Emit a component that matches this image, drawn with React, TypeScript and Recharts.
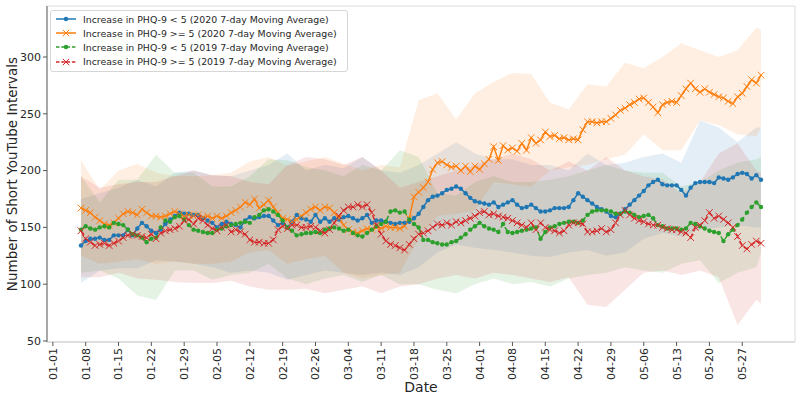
import React from 'react';
import { ComposedChart, Line, Area, XAxis, YAxis, Legend, ReferenceArea } from 'recharts';

const BLUE = '#1f77b4';
const ORANGE = '#ff7f0e';
const GREEN = '#2ca02c';
const RED = '#d62728';
const FONT = 'DejaVu Sans, sans-serif';

// first plotted day (days counted from 01-01, 2020)
const START_DAY = 6;

const blue2020 = [
  134, 138, 140, 140, 141, 139, 139, 143, 143, 143,
  148, 143, 149, 154, 151, 147, 145, 148, 153, 157,
  160, 163, 162, 162, 161, 161, 158, 156, 154, 150,
  153, 155, 153, 152, 150, 156, 159, 158, 159, 160,
  160, 156, 152, 154, 150, 155, 161, 158, 157, 155,
  161, 155, 158, 155, 158, 157, 159, 160, 158, 156,
  158, 161, 154, 156, 156, 155, 154, 153, 154, 154,
  155, 158, 162, 168, 174, 177, 178, 180, 183, 184,
  186, 184, 180, 176, 173, 172, 171, 170, 172, 168,
  170, 172, 174, 170, 167, 168, 170, 167, 164, 164,
  165, 167, 167, 167, 168, 174, 180, 177, 174, 171,
  168, 166, 164, 160, 159, 162, 166, 170, 174, 178,
  182, 187, 190, 192, 188, 187, 187, 187, 183, 178,
  185, 189, 190, 190, 190, 189, 194, 193, 192, 194,
  197, 198, 197, 193, 196, 192,
];

const orange2020 = [
  167, 165, 163, 159, 156, 153, 152, 154, 158, 162,
  164, 163, 161, 166, 163, 160, 160, 159, 160, 162,
  164, 162, 160, 161, 160, 161, 159, 160, 158, 160,
  158, 160, 163, 165, 168, 172, 170, 175, 167, 170,
  174, 168, 163, 158, 157, 155, 157, 160, 163, 166,
  168, 165, 168, 167, 163, 158, 152, 148, 146, 145,
  147, 149, 148, 150, 149, 151, 150, 150, 149, 151,
  158, 177, 181, 185, 190, 201, 207, 208, 205, 203,
  204, 200, 204, 199, 204, 201, 206, 210, 221, 209,
  222, 218, 220, 217, 224, 218, 229, 224, 227, 234,
  230, 231, 228, 229, 227, 228, 227, 236, 243, 243,
  242, 243, 243, 246, 249, 253, 255, 258, 260, 263,
  264, 260, 256, 251, 258, 260, 261, 260, 266, 272,
  277, 272, 269, 272, 269, 267, 265, 264, 261, 259,
  265, 268, 274, 280, 277, 284,
];

const green2019 = [
  148, 151, 149, 148, 150, 151, 150, 154, 153, 152,
  148, 144, 143, 141, 137, 140, 141, 150, 156, 155,
  159, 160, 157, 152, 148, 147, 146, 145, 145, 148,
  149, 151, 152, 153, 154, 155, 154, 159, 161, 165,
  166, 164, 161, 156, 150, 147, 143, 144, 145, 145,
  146, 145, 148, 149, 150, 149, 147, 148, 145, 143,
  142, 145, 148, 151, 153, 155, 164, 165, 163, 164,
  157, 153, 150, 139, 139, 137, 136, 135, 135, 137,
  138, 141, 144, 148, 151, 154, 151, 149, 148, 146,
  153, 146, 145, 146, 147, 148, 149, 150, 140, 146,
  150, 151, 153, 154, 155, 155, 154, 156, 161, 164,
  165, 165, 165, 164, 162, 162, 164, 163, 161, 159,
  160, 161, 158, 152, 151, 149, 149, 149, 148, 149,
  154, 153, 151, 149, 147, 146, 145, 138, 144, 148,
  152, 157, 163, 168, 172, 168,
];

const red2019 = [
  147, 140, 137, 134, 135, 136, 134, 136, 138, 141,
  143, 144, 143, 142, 141, 144, 140, 145, 147, 148,
  149, 151, 156, 157, 153, 158, 156, 152, 149, 147,
  150, 152, 146, 148, 146, 144, 139, 137, 137, 136,
  136, 139, 148, 151, 149, 152, 152, 150, 150, 151,
  150, 147, 145, 148, 154, 160, 165, 168, 168, 170,
  168, 170, 163, 152, 144, 138, 135, 134, 132, 130,
  135, 140, 144, 145, 147, 150, 153, 152, 154, 152,
  155, 154, 156, 158, 160, 163, 164, 161, 162, 160,
  159, 158, 156, 154, 152, 150, 154, 148, 154, 150,
  148, 147, 145, 147, 152, 154, 154, 153, 146, 146,
  147, 149, 146, 148, 154, 161, 165, 161, 158, 156,
  155, 153, 152, 152, 150, 149, 148, 148, 146, 145,
  141, 150, 152, 156, 163, 158, 160, 157, 154, 150,
  142, 134, 131, 135, 138, 136,
];

// shaded bands, read every 4 days
const bandDays = [
  6, 10, 14, 18, 22, 26, 30, 34, 38, 42, 46, 50, 54, 58, 62, 66, 70, 74, 78,
  82, 86, 90, 94, 98, 102, 106, 110, 114, 118, 122, 126, 130, 134, 138, 142, 146, 150, 151,
];
const blueUpper = [175, 180, 185, 192, 186, 198, 200, 196, 195, 200, 205, 215, 200, 205, 202, 212, 200, 198, 205, 215, 225, 215, 210, 210, 205, 205, 200, 215, 205, 207, 212, 215, 207, 244, 238, 225, 238, 238];
const blueLower = [101, 112, 114, 114, 121, 120, 118, 115, 110, 112, 110, 104, 108, 112, 110, 108, 110, 108, 115, 128, 135, 132, 130, 128, 125, 124, 128, 130, 125, 128, 140, 145, 142, 148, 150, 152, 150, 150];
const orangeUpper = [209, 183, 200, 206, 198, 195, 195, 196, 198, 208, 212, 204, 208, 212, 206, 200, 205, 203, 262, 268, 245, 268, 278, 286, 285, 260, 254, 276, 274, 295, 290, 300, 312, 306, 300, 306, 326, 324];
const orangeLower = [125, 118, 120, 122, 118, 120, 118, 118, 120, 128, 130, 118, 122, 125, 110, 105, 108, 110, 140, 160, 162, 165, 190, 188, 186, 200, 203, 205, 210, 214, 232, 218, 218, 244, 240, 232, 230, 238];
const greenUpper = [195, 172, 192, 192, 214, 198, 198, 186, 186, 195, 210, 209, 203, 200, 195, 205, 200, 218, 212, 180, 178, 190, 195, 190, 190, 192, 195, 200, 205, 200, 198, 198, 186, 190, 200, 207, 210, 212];
const greenLower = [110, 112, 105, 90, 86, 112, 112, 104, 108, 110, 118, 105, 100, 105, 108, 102, 108, 100, 100, 95, 92, 100, 105, 100, 102, 98, 105, 108, 110, 115, 112, 110, 118, 121, 101, 110, 115, 127];
const redUpper = [195, 185, 188, 190, 190, 195, 200, 196, 195, 190, 188, 205, 212, 210, 205, 212, 200, 185, 190, 195, 200, 205, 210, 215, 210, 200, 208, 200, 212, 200, 195, 192, 180, 190, 215, 224, 200, 198];
const redLower = [106, 106, 110, 105, 104, 102, 101, 101, 103, 98, 95, 95, 96, 92, 95, 98, 92, 98, 100, 105, 108, 105, 110, 108, 105, 102, 106, 82, 80, 95, 110, 112, 108, 112, 106, 64, 86, 83];

const tickDays = [0, 7, 14, 21, 28, 35, 42, 49, 56, 63, 70, 77, 84, 91, 98, 105, 112, 119, 126, 133, 140, 147];
const tickLabels = [
  '01-01', '01-08', '01-15', '01-22', '01-29', '02-05', '02-12', '02-19', '02-26', '03-04', '03-11',
  '03-18', '03-25', '04-01', '04-08', '04-15', '04-22', '04-29', '05-06', '05-13', '05-20', '05-27',
];
const yTicks = [50, 100, 150, 200, 250, 300];

const legendItems = [
  { label: 'Increase in PHQ-9 < 5 (2020 7-day Moving Average)', color: BLUE, dashed: false, marker: 'dot' },
  { label: 'Increase in PHQ-9 >= 5 (2020 7-day Moving Average)', color: ORANGE, dashed: false, marker: 'x' },
  { label: 'Increase in PHQ-9 < 5 (2019 7-day Moving Average)', color: GREEN, dashed: true, marker: 'dot' },
  { label: 'Increase in PHQ-9 >= 5 (2019 7-day Moving Average)', color: RED, dashed: true, marker: 'x' },
];

const lineData = blue2020.map((_, i) => ({
  day: START_DAY + i,
  blue: blue2020[i],
  orange: orange2020[i],
  green: green2019[i],
  red: red2019[i],
}));

const bandData = bandDays.map((d, i) => ({
  day: d,
  blueBand: [blueLower[i], blueUpper[i]],
  orangeBand: [orangeLower[i], orangeUpper[i]],
  greenBand: [greenLower[i], greenUpper[i]],
  redBand: [redLower[i], redUpper[i]],
}));

const X_DOMAIN: [number, number] = [-1.25, 158.25];
const Y_DOMAIN: [number, number] = [49.1, 344.9];

const makeDot = (color: string, kind: string) => (props: any) => {
  const { cx, cy, index } = props;
  if (cx == null || cy == null) return <g key={`d${index}`} />;
  if (kind === 'dot') {
    return <circle key={`d${index}`} cx={cx} cy={cy} r={2.2} fill={color} stroke="none" />;
  }
  const s = 3.3;
  return (
    <path
      key={`d${index}`}
      d={`M${cx - s},${cy - s}L${cx + s},${cy + s}M${cx - s},${cy + s}L${cx + s},${cy - s}`}
      stroke={color}
      strokeWidth={1}
      fill="none"
    />
  );
};

const XTick = (props: any) => {
  const { x, y, payload } = props;
  const idx = tickDays.indexOf(payload.value);
  const label = idx >= 0 ? tickLabels[idx] : '';
  return (
    <text
      x={x}
      y={y}
      dy="0.36em"
      textAnchor="end"
      transform={`rotate(-90, ${x}, ${y})`}
      fontSize={11}
      fontFamily={FONT}
      fill="#262626"
    >
      {label}
    </text>
  );
};

const YLabel = (props: any) => {
  const vb = props.viewBox || { x: 0, y: 6, width: 47, height: 336 };
  const cx = 12;
  const cy = vb.y + vb.height / 2;
  return (
    <text
      x={cx}
      y={cy}
      dy="0.36em"
      textAnchor="middle"
      transform={`rotate(-90, ${cx}, ${cy})`}
      fontSize={13.5}
      fontFamily={FONT}
      fill="#262626"
    >
      Number of Short YouTube Intervals
    </text>
  );
};

const XLabel = (props: any) => {
  const vb = props.viewBox || { x: 47, y: 342, width: 748, height: 58 };
  return (
    <text
      x={vb.x + vb.width / 2}
      y={vb.y + 50}
      textAnchor="middle"
      fontSize={14}
      fontFamily={FONT}
      fill="#262626"
    >
      Date
    </text>
  );
};

const LegendBox = () => (
  <div
    style={{
      border: '1px solid #d6d6d6',
      borderRadius: 3,
      background: 'rgba(255,255,255,0.85)',
      padding: '1px 10px 2px 4px',
      fontFamily: FONT,
      fontSize: 9.4,
      color: '#262626',
      whiteSpace: 'nowrap',
    }}
  >
    {legendItems.map((it) => (
      <div key={it.label} style={{ display: 'flex', alignItems: 'center', height: 14.2 }}>
        <svg width={22} height={10} style={{ display: 'block' }}>
          <line
            x1={1}
            y1={5}
            x2={21}
            y2={5}
            stroke={it.color}
            strokeWidth={1.5}
            strokeDasharray={it.dashed ? '3.5 1.8' : undefined}
          />
          {it.marker === 'dot' ? (
            <circle cx={11} cy={5} r={2.2} fill={it.color} />
          ) : (
            <path d="M7.8,1.8L14.2,8.2M7.8,8.2L14.2,1.8" stroke={it.color} strokeWidth={1} />
          )}
        </svg>
        <span style={{ marginLeft: 6 }}>{it.label}</span>
      </div>
    ))}
  </div>
);

export default function App() {
  return (
    <div style={{ position: 'absolute', left: 0, top: 0, width: 800, height: 400, background: '#fff' }}>
      <ComposedChart
        width={800}
        height={400}
        data={lineData}
        margin={{ top: 6, right: 5, left: 0, bottom: 0 }}
      >
        <ReferenceArea
          x1={X_DOMAIN[0]}
          x2={X_DOMAIN[1]}
          y1={Y_DOMAIN[0]}
          y2={Y_DOMAIN[1]}
          fill="none"
          stroke="#dcdcdc"
          strokeWidth={1}
          ifOverflow="visible"
        />
        <XAxis
          type="number"
          dataKey="day"
          domain={X_DOMAIN}
          allowDataOverflow
          ticks={tickDays}
          interval={0}
          height={58}
          tickSize={4}
          tickLine={{ stroke: '#555' }}
          axisLine={{ stroke: '#d0d0d0' }}
          tick={<XTick />}
          label={<XLabel />}
        />
        <YAxis
          type="number"
          domain={Y_DOMAIN}
          allowDataOverflow
          ticks={yTicks}
          interval={0}
          width={47}
          tickSize={4}
          tickLine={{ stroke: '#555' }}
          axisLine={{ stroke: '#a8a8a8', strokeWidth: 2 }}
          tick={{ fontSize: 11, fontFamily: FONT, fill: '#262626' }}
          label={<YLabel />}
        />
        <Area data={bandData} type="linear" dataKey="blueBand" stroke="none" fill={BLUE} fillOpacity={0.12} isAnimationActive={false} dot={false} activeDot={false} />
        <Area data={bandData} type="linear" dataKey="orangeBand" stroke="none" fill={ORANGE} fillOpacity={0.12} isAnimationActive={false} dot={false} activeDot={false} />
        <Area data={bandData} type="linear" dataKey="greenBand" stroke="none" fill={GREEN} fillOpacity={0.12} isAnimationActive={false} dot={false} activeDot={false} />
        <Area data={bandData} type="linear" dataKey="redBand" stroke="none" fill={RED} fillOpacity={0.12} isAnimationActive={false} dot={false} activeDot={false} />
        <Line type="linear" dataKey="blue" stroke={BLUE} strokeWidth={1.5} dot={makeDot(BLUE, 'dot')} activeDot={false} isAnimationActive={false} />
        <Line type="linear" dataKey="orange" stroke={ORANGE} strokeWidth={1.5} dot={makeDot(ORANGE, 'x')} activeDot={false} isAnimationActive={false} />
        <Line type="linear" dataKey="green" stroke={GREEN} strokeWidth={1.5} strokeDasharray="5.5 2.4" dot={makeDot(GREEN, 'dot')} activeDot={false} isAnimationActive={false} />
        <Line type="linear" dataKey="red" stroke={RED} strokeWidth={1.5} strokeDasharray="5.5 2.4" dot={makeDot(RED, 'x')} activeDot={false} isAnimationActive={false} />
        <Legend
          layout="vertical"
          align="center"
          verticalAlign="middle"
          content={<LegendBox />}
          wrapperStyle={{ position: 'absolute', top: 10, left: 50, width: 'auto', height: 'auto' }}
        />
      </ComposedChart>
    </div>
  );
}
